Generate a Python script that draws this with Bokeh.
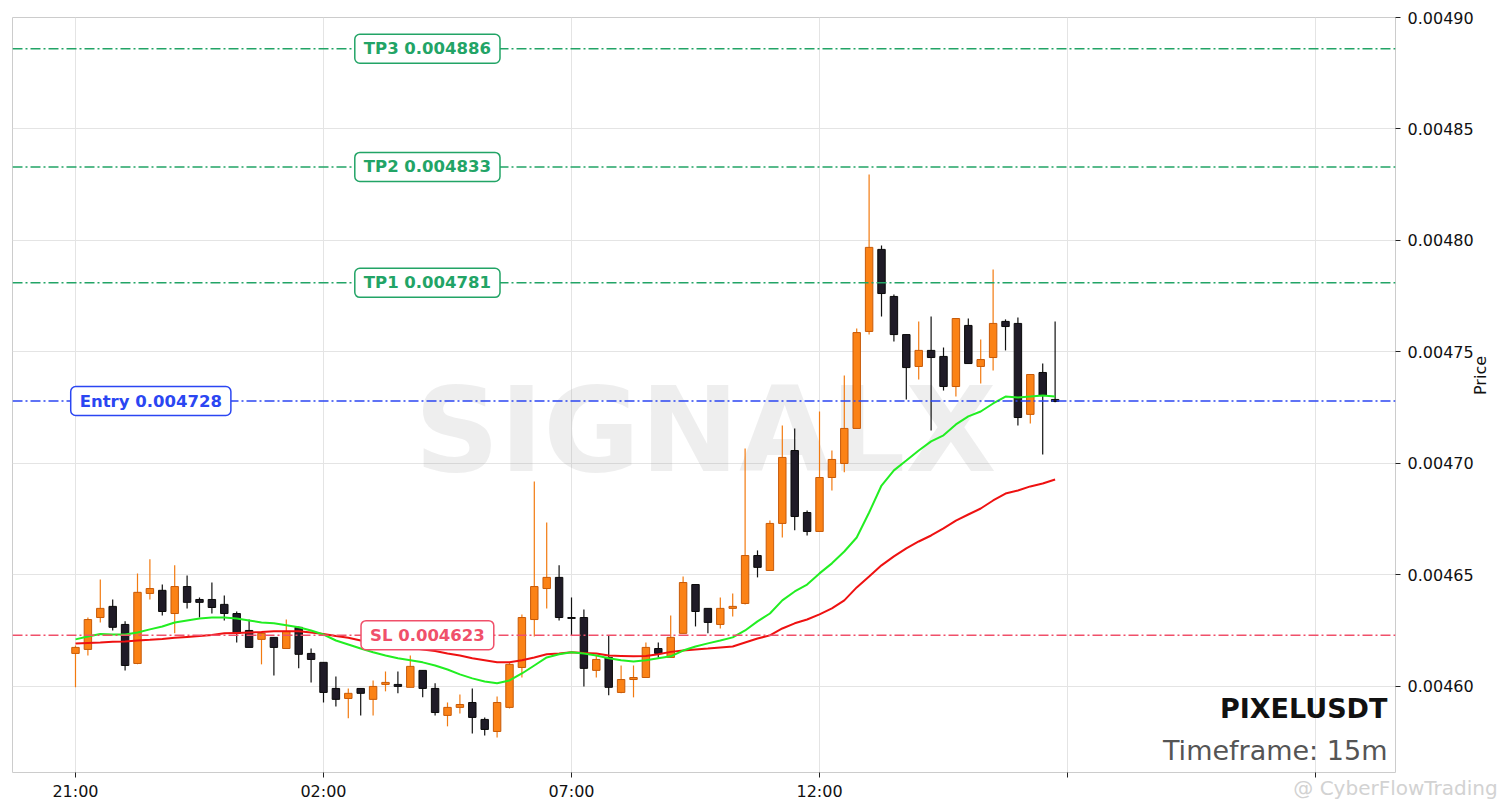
import math
from bokeh.plotting import figure
from bokeh.models import Range1d, FixedTicker, NumeralTickFormatter, Span, Label, ColumnDataSource
from bokeh.embed import file_html
from bokeh.resources import INLINE

# ---------------- data ----------------
open_ = [0.0046148, 0.0046166, 0.0046309, 0.0046359, 0.0046278, 0.0046103, 0.0046417, 0.0046431, 0.0046327, 0.0046448,
         0.0046390, 0.0046390, 0.0046368, 0.0046327, 0.0046251, 0.0046211, 0.0046220, 0.0046170, 0.0046265, 0.0046148,
         0.0046108, 0.0045991, 0.0045946, 0.0045991, 0.0045942, 0.0046009, 0.0046009, 0.0045996, 0.0046072, 0.0045991,
         0.0045870, 0.0045906, 0.0045928, 0.0045852, 0.0045798, 0.0045906, 0.0046085, 0.0046300, 0.0046439, 0.0046489,
         0.0046309, 0.0046309, 0.0046072, 0.0046130, 0.0045973, 0.0046031, 0.0046040, 0.0046170, 0.0046130, 0.0046238,
         0.0046457, 0.0046350, 0.0046278, 0.0046350, 0.0046372, 0.0046587, 0.0046520, 0.0046731, 0.0047058, 0.0046780,
         0.0046695, 0.0046937, 0.0047000, 0.0047157, 0.0047592, 0.0047960, 0.0047749, 0.0047578, 0.0047435, 0.0047507,
         0.0047480, 0.0047345, 0.0047619, 0.0047435, 0.0047475, 0.0047637, 0.0047628, 0.0047220, 0.0047408, 0.0047287]
high = [0.0046184, 0.0046309, 0.0046480, 0.0046390, 0.0046292, 0.0046507, 0.0046570, 0.0046457, 0.0046543, 0.0046498,
        0.0046399, 0.0046466, 0.0046408, 0.0046336, 0.0046300, 0.0046238, 0.0046220, 0.0046300, 0.0046269, 0.0046170,
        0.0046108, 0.0046045, 0.0045991, 0.0045991, 0.0046027, 0.0046067, 0.0046067, 0.0046139, 0.0046072, 0.0046014,
        0.0045928, 0.0045964, 0.0045991, 0.0045861, 0.0045955, 0.0046108, 0.0046323, 0.0046919, 0.0046735, 0.0046543,
        0.0046399, 0.0046345, 0.0046139, 0.0046229, 0.0046094, 0.0046094, 0.0046197, 0.0046197, 0.0046318, 0.0046493,
        0.0046457, 0.0046350, 0.0046399, 0.0046417, 0.0047067, 0.0046610, 0.0046744, 0.0047170, 0.0047157, 0.0046789,
        0.0047233, 0.0047058, 0.0047395, 0.0047605, 0.0048296, 0.0047977, 0.0047758, 0.0047578, 0.0047637, 0.0047659,
        0.0047520, 0.0047650, 0.0047650, 0.0047556, 0.0047870, 0.0047646, 0.0047655, 0.0047399, 0.0047448, 0.0047637]
low = [0.0045996, 0.0046139, 0.0046287, 0.0046251, 0.0046072, 0.0046099, 0.0046390, 0.0046318, 0.0046238, 0.0046350,
       0.0046309, 0.0046327, 0.0046296, 0.0046197, 0.0046175, 0.0046099, 0.0046049, 0.0046170, 0.0046081, 0.0046018,
       0.0045928, 0.0045910, 0.0045857, 0.0045870, 0.0045870, 0.0045978, 0.0045969, 0.0045996, 0.0045951, 0.0045870,
       0.0045821, 0.0045879, 0.0045789, 0.0045780, 0.0045771, 0.0045901, 0.0046040, 0.0046224, 0.0046350, 0.0046296,
       0.0046229, 0.0046000, 0.0046040, 0.0045960, 0.0045969, 0.0045951, 0.0046040, 0.0046130, 0.0046130, 0.0046238,
       0.0046269, 0.0046238, 0.0046260, 0.0046314, 0.0046368, 0.0046489, 0.0046520, 0.0046668, 0.0046700, 0.0046677,
       0.0046695, 0.0046879, 0.0046960, 0.0047157, 0.0047578, 0.0047659, 0.0047547, 0.0047287, 0.0047377, 0.0047148,
       0.0047327, 0.0047300, 0.0047448, 0.0047359, 0.0047417, 0.0047507, 0.0047170, 0.0047179, 0.0047040, 0.0047274]
close = [0.0046175, 0.0046300, 0.0046350, 0.0046265, 0.0046094, 0.0046422, 0.0046439, 0.0046336, 0.0046448, 0.0046377,
         0.0046377, 0.0046354, 0.0046327, 0.0046238, 0.0046175, 0.0046238, 0.0046175, 0.0046247, 0.0046144, 0.0046121,
         0.0045973, 0.0045942, 0.0045969, 0.0045969, 0.0046000, 0.0046018, 0.0046000, 0.0046090, 0.0045991, 0.0045883,
         0.0045906, 0.0045919, 0.0045861, 0.0045807, 0.0045928, 0.0046099, 0.0046309, 0.0046448, 0.0046489, 0.0046309,
         0.0046305, 0.0046081, 0.0046121, 0.0045996, 0.0046031, 0.0046040, 0.0046175, 0.0046148, 0.0046220, 0.0046466,
         0.0046336, 0.0046287, 0.0046350, 0.0046359, 0.0046587, 0.0046534, 0.0046731, 0.0047027, 0.0046762, 0.0046695,
         0.0046937, 0.0047018, 0.0047157, 0.0047587, 0.0047969, 0.0047762, 0.0047578, 0.0047430, 0.0047507, 0.0047475,
         0.0047345, 0.0047650, 0.0047448, 0.0047466, 0.0047628, 0.0047614, 0.0047206, 0.0047399, 0.0047305, 0.0047278]
ema_fast = [0.0046211, 0.0046224, 0.0046235, 0.0046233, 0.0046233, 0.0046242, 0.0046256, 0.0046269, 0.0046287, 0.0046296,
            0.0046305, 0.0046309, 0.0046309, 0.0046305, 0.0046296, 0.0046287, 0.0046283, 0.0046274, 0.0046265, 0.0046251,
            0.0046233, 0.0046206, 0.0046188, 0.0046170, 0.0046153, 0.0046139, 0.0046126, 0.0046117, 0.0046108, 0.0046094,
            0.0046076, 0.0046054, 0.0046036, 0.0046022, 0.0046014, 0.0046027, 0.0046058, 0.0046094, 0.0046130, 0.0046144,
            0.0046153, 0.0046148, 0.0046139, 0.0046126, 0.0046117, 0.0046112, 0.0046117, 0.0046126, 0.0046135, 0.0046161,
            0.0046179, 0.0046193, 0.0046206, 0.0046220, 0.0046251, 0.0046292, 0.0046327, 0.0046386, 0.0046426, 0.0046457,
            0.0046507, 0.0046552, 0.0046605, 0.0046668, 0.0046780, 0.0046901, 0.0046969, 0.0047013, 0.0047058, 0.0047099,
            0.0047126, 0.0047175, 0.0047211, 0.0047233, 0.0047269, 0.0047300, 0.0047296, 0.0047300, 0.0047305, 0.0047300]
ema_slow = [0.0046193, 0.0046195, 0.0046197, 0.0046200, 0.0046202, 0.0046206, 0.0046209, 0.0046213, 0.0046218, 0.0046222,
            0.0046226, 0.0046231, 0.0046238, 0.0046240, 0.0046242, 0.0046244, 0.0046247, 0.0046247, 0.0046247, 0.0046242,
            0.0046235, 0.0046226, 0.0046218, 0.0046206, 0.0046200, 0.0046188, 0.0046179, 0.0046173, 0.0046166, 0.0046159,
            0.0046148, 0.0046139, 0.0046126, 0.0046117, 0.0046108, 0.0046108, 0.0046117, 0.0046130, 0.0046144, 0.0046148,
            0.0046153, 0.0046150, 0.0046148, 0.0046139, 0.0046137, 0.0046135, 0.0046137, 0.0046144, 0.0046155, 0.0046161,
            0.0046166, 0.0046170, 0.0046175, 0.0046179, 0.0046197, 0.0046215, 0.0046229, 0.0046260, 0.0046283, 0.0046300,
            0.0046323, 0.0046350, 0.0046386, 0.0046444, 0.0046493, 0.0046543, 0.0046583, 0.0046619, 0.0046650, 0.0046677,
            0.0046709, 0.0046744, 0.0046771, 0.0046798, 0.0046834, 0.0046865, 0.0046879, 0.0046897, 0.0046910, 0.0046928]

x_tick_pos = [0, 20, 40, 60, 80, 100]
x_tick_labels = ["21:00", "02:00", "07:00", "12:00", "", ""]
y_ticks = [0.00460, 0.00465, 0.00470, 0.00475, 0.00480, 0.00485, 0.00490]

level_names = ["TP3", "TP2", "TP1", "Entry", "SL"]
level_values = [0.004886, 0.004833, 0.004781, 0.004728, 0.004623]

symbol = "PIXELUSDT"
timeframe = "Timeframe: 15m"
watermark = "SIGNALX"
y_label = "Price"
credit = "@ CyberFlowTrading"

# ---------------- styling ----------------
FONT = "DejaVu Sans"
UP_FILL, UP_LINE = "#fb8216", "#c75a08"
DN_FILL, DN_LINE = "#1f1b27", "#0a0a0a"
level_colors = {"TP3": "#22a466", "TP2": "#22a466", "TP1": "#22a466", "Entry": "#2b46f2", "SL": "#f0506a"}

n = len(open_)
idx = list(range(n))
up = [c >= o for o, c in zip(open_, close)]
src = ColumnDataSource(dict(
    x=idx,
    top=[max(o, c) for o, c in zip(open_, close)],
    bottom=[min(o, c) for o, c in zip(open_, close)],
    high=high, low=low,
    fill=[UP_FILL if u else DN_FILL for u in up],
    line=[UP_LINE if u else DN_LINE for u in up],
    wick=["#f27a10" if u else "#111111" for u in up],
))

x_lo, x_hi = -5.08, 106.45
p = figure(width=1504, height=804, output_backend="svg", toolbar_location=None,
           x_range=Range1d(x_lo, x_hi), y_range=Range1d(0.0045614, 0.0049),
           y_axis_location="right",
           min_border_left=12, min_border_top=17, min_border_bottom=32, min_border_right=109)

p.background_fill_color = "white"
p.border_fill_color = "white"
p.outline_line_color = "#cccccc"
p.outline_line_width = 1

# grids
p.xgrid.ticker = FixedTicker(ticks=x_tick_pos)
p.ygrid.ticker = FixedTicker(ticks=y_ticks)
for g in (p.xgrid, p.ygrid):
    g.grid_line_color = "#e4e4e4"
    g.grid_line_width = 1

# axes
p.xaxis.ticker = FixedTicker(ticks=x_tick_pos)
p.xaxis.major_label_overrides = {t: l for t, l in zip(x_tick_pos, x_tick_labels)}
p.yaxis.ticker = FixedTicker(ticks=y_ticks)
p.yaxis.formatter = NumeralTickFormatter(format="0.00000")
for ax in (p.xaxis, p.yaxis):
    ax.axis_line_color = None
    ax.major_tick_line_color = "#222222"
    ax.major_tick_out = 5
    ax.major_tick_in = 0
    ax.minor_tick_line_color = None
    ax.major_label_text_font = FONT
    ax.major_label_text_font_size = "16px"
    ax.major_label_text_color = "#111111"
    ax.axis_label_text_font = FONT
    ax.axis_label_text_font_style = "normal"
p.xaxis.major_label_standoff = 4
p.yaxis.major_label_standoff = 7

# y axis title (reads bottom-to-top in the reference)
yax = p.yaxis[0]
yax.axis_label = y_label
yax.axis_label_text_font_size = "16px"
yax.axis_label_text_color = "#111111"
yax.axis_label_standoff = 4
if hasattr(yax, "axis_label_orientation"):
    yax.axis_label_orientation = math.pi / 2

# faint credit below the frame, drawn as the x axis title
xax = p.xaxis[0]
xax.axis_label = credit
xax.axis_label_align = "end"
xax.axis_label_standoff = -28
xax.axis_label_text_font_size = "20px"
xax.axis_label_text_color = "#d2d2d2"

# watermark
p.add_layout(Label(x=50.8, y=0.004715, text=watermark, text_font=FONT, text_font_style="bold",
                   text_font_size="118px", text_color="#9a9a9a", text_alpha=0.17,
                   text_align="center", text_baseline="alphabetic", level="underlay"))

# level lines
for name, val in zip(level_names, level_values):
    col = level_colors[name]
    p.add_layout(Span(location=val, dimension="width", line_color=col, line_width=1.5,
                      line_dash="10 3 2 3"))

# candles
p.segment(x0="x", y0="low", x1="x", y1="high", source=src, line_color="wick", line_width=1.2)
p.vbar(x="x", top="top", bottom="bottom", width=0.6, source=src,
       fill_color="fill", line_color="line", line_width=1)

# moving averages
p.line(idx, ema_slow, line_color="#ee1111", line_width=2)
p.line(idx, ema_fast, line_color="#22ee22", line_width=2)

# level labels
for name, val in zip(level_names, level_values):
    col = level_colors[name]
    frac = 0.10 if name == "Entry" else 0.30
    p.add_layout(Label(x=x_lo + frac * (x_hi - x_lo), y=val, text=f"{name} {val:.6f}",
                       text_font=FONT, text_font_style="bold", text_font_size="16.5px",
                       text_color=col, text_align="center", text_baseline="middle",
                       background_fill_color="white", background_fill_alpha=1.0,
                       border_line_color=col, border_line_width=1.5,
                       padding=(9, 5), border_radius=5))

# symbol & timeframe
p.add_layout(Label(x=105.8, y=0.0045901, text=symbol, text_font=FONT, text_font_style="bold",
                   text_font_size="27px", text_color="#111111", text_align="right",
                   text_baseline="alphabetic"))
p.add_layout(Label(x=105.8, y=0.0045713, text=timeframe, text_font=FONT,
                   text_font_size="27px", text_color="#555555", text_align="right",
                   text_baseline="alphabetic"))

open("out.html", "w").write(file_html(p, INLINE))
